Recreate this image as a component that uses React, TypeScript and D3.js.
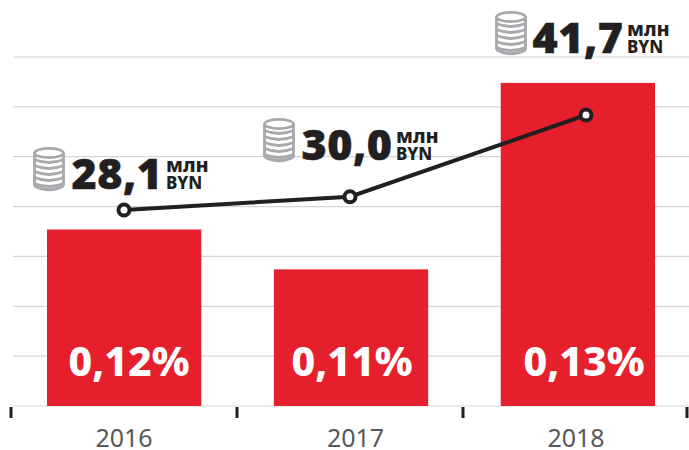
import React from 'react';
import * as d3 from 'd3';

const years = ['2016', '2017', '2018'];
const shares = ['0,12%', '0,11%', '0,13%'];
const amountLabels = ['28,1', '30,0', '41,7'];
const amounts = [28.1, 30.0, 41.7];
// bar heights as drawn, in grid steps
const barValues = [3.54, 2.74, 6.48];
const gridTicks = [0, 1, 2, 3, 4, 5, 6, 7];

const RED = '#e61f2d';
const DARK = '#231f20';
const GREY = '#a7a9ac';
const FONT = '"Noto Sans", "Open Sans", sans-serif';

const W = 689;
const H = 450;

const Coins = ({ x, y }: { x: number; y: number }) => {
  const rows = d3.range(5);
  return (
    <g transform={`translate(${x},${y})`} fill="none" stroke={GREY} strokeWidth={2.8}>
      <ellipse cx={16} cy={6} rx={14.5} ry={4.6} />
      {rows.map(i => (
        <path key={i} d={`M1.5,${12.5 + i * 6} q14.5,6 29,0`} />
      ))}
      <path d="M1.5,6 V39 M30.5,6 V39" />
      <path d="M1.5,39 q14.5,7.5 29,0" />
    </g>
  );
};

const App = () => {
  const x = d3.scaleBand().domain(years).range([47, 655]).paddingInner(0.32).paddingOuter(0);
  const y = d3.scaleLinear().domain([0, 7]).range([406, 57]);
  const yLine = d3.scaleLinear().domain([28.1, 41.7]).range([210, 115]);
  const pointX = [124, 350, 586];
  const tickX = [11, 237, 463, 687];
  const labelX = [124, 355.5, 576];
  const shareX = [129, 352, 584];
  const calloutX = [33, 263, 495];
  const calloutY = [147, 118, 11];
  const numX = [71.5, 301.5, 532.5];
  const unitX = [166, 396, 627];

  const line = d3.line<number>().x((d, i) => pointX[i]).y(d => yLine(d));

  return (
    <svg width={W} height={H} style={{ position: 'absolute', left: 0, top: 0, fontFamily: FONT }}>
      {gridTicks.map(t => (
        <line key={t} x1={13} x2={W} y1={y(t)} y2={y(t)} stroke="#d4d5d6" strokeWidth={1.2} />
      ))}
      {years.map((yr, i) => (
        <rect key={yr} x={x(yr)} y={y(barValues[i])} width={x.bandwidth()} height={y(0) - y(barValues[i])} fill={RED} />
      ))}
      {tickX.map(t => (
        <line key={t} x1={t} x2={t} y1={407} y2={418} stroke={DARK} strokeWidth={3} />
      ))}
      {years.map((yr, i) => (
        <text key={yr} x={labelX[i]} y={447} textAnchor="middle" fontSize={25} fill="#58595b">{yr}</text>
      ))}
      {shares.map((s, i) => (
        <text key={s} x={shareX[i]} y={376} textAnchor="middle" fontSize={41} fontWeight={800} fill="#fff">{s}</text>
      ))}
      <path d={line(amounts) ?? ''} fill="none" stroke={DARK} strokeWidth={4} />
      {amounts.map((a, i) => (
        <circle key={i} cx={pointX[i]} cy={yLine(a)} r={5.5} fill="#fff" stroke={DARK} strokeWidth={4} />
      ))}
      {amountLabels.map((l, i) => (
        <g key={l}>
          <Coins x={calloutX[i]} y={calloutY[i]} />
          <text x={numX[i]} y={calloutY[i] + 42} fontSize={43} fontWeight={900} letterSpacing={0.5} stroke={DARK} strokeWidth={0.5} fill={DARK}>{l}</text>
          <text x={unitX[i]} y={calloutY[i] + 25} fontSize={20} fontWeight={800} fill={DARK}>млн</text>
          <text x={unitX[i]} y={calloutY[i] + 42} fontSize={17} fontWeight={800} fill={DARK}>BYN</text>
        </g>
      ))}
    </svg>
  );
};

export default App;
